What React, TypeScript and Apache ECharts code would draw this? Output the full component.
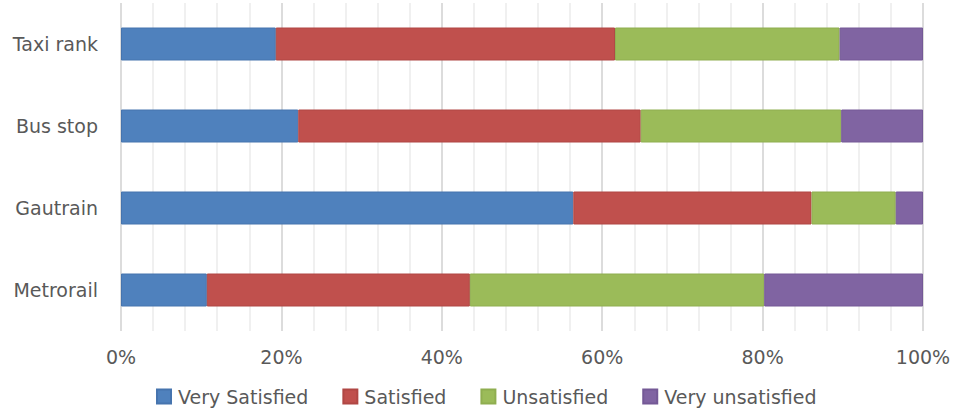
import React, { useEffect, useRef } from "react";
import * as echarts from "echarts";

const categories = ["Taxi rank", "Bus stop", "Gautrain", "Metrorail"];
const seriesNames = ["Very Satisfied", "Satisfied", "Unsatisfied", "Very unsatisfied"];
const verySatisfied = [19.3, 22.1, 56.4, 10.7];
const satisfied = [42.3, 42.7, 29.7, 32.8];
const unsatisfied = [28.0, 25.0, 10.5, 36.7];
const veryUnsatisfied = [10.4, 10.2, 3.4, 19.8];
const colors = ["#4F81BD", "#C0504D", "#9BBB59", "#8064A2"];
const borders = ["#4674AE", "#B04744", "#8FAE50", "#745996"];

export default function App() {
  const ref = useRef<HTMLDivElement>(null);
  useEffect(() => {
    if (!ref.current) return;
    const chart = echarts.init(ref.current, null, { renderer: "svg" });
    const data = [verySatisfied, satisfied, unsatisfied, veryUnsatisfied];
    const font = "'DejaVu Sans', 'Open Sans', sans-serif";
    chart.setOption({
      animation: false,
      textStyle: { fontFamily: font },
      grid: { left: 121, right: 34, top: 3, bottom: 78, containLabel: false },
      legend: {
        top: 387,
        left: 156,
        icon: "rect",
        itemWidth: 14,
        itemHeight: 14,
        itemGap: 34,
        padding: 0,
        textStyle: {
          fontSize: 19,
          color: "#595959",
          fontFamily: font,
          padding: [0, 0, 0, 2],
        },
        data: seriesNames,
      },
      xAxis: {
        type: "value",
        min: 0,
        max: 100,
        interval: 20,
        axisLine: { show: false },
        axisTick: { show: false },
        axisLabel: {
          formatter: "{value}%",
          fontSize: 19,
          color: "#595959",
          margin: 16,
          fontFamily: font,
        },
        splitLine: { show: true, lineStyle: { color: "#D0D0D0", width: 1.5 } },
        minorTick: { show: false, splitNumber: 5 },
        minorSplitLine: { show: true, lineStyle: { color: "#EBEBEB", width: 1.5 } },
      },
      yAxis: {
        type: "category",
        data: categories,
        inverse: true,
        axisLine: { show: false },
        axisTick: { show: false },
        axisLabel: { fontSize: 19, color: "#595959", margin: 23, fontFamily: font },
      },
      series: seriesNames.map((name, i) => ({
        name,
        type: "bar",
        stack: "total",
        barWidth: 33,
        data: data[i],
        itemStyle: { color: colors[i], borderColor: borders[i], borderWidth: 1 },
      })),
    });
    return () => chart.dispose();
  }, []);
  return (
    <div
      ref={ref}
      style={{ position: "fixed", left: 0, top: 0, width: 957, height: 409, background: "#fff" }}
    />
  );
}
